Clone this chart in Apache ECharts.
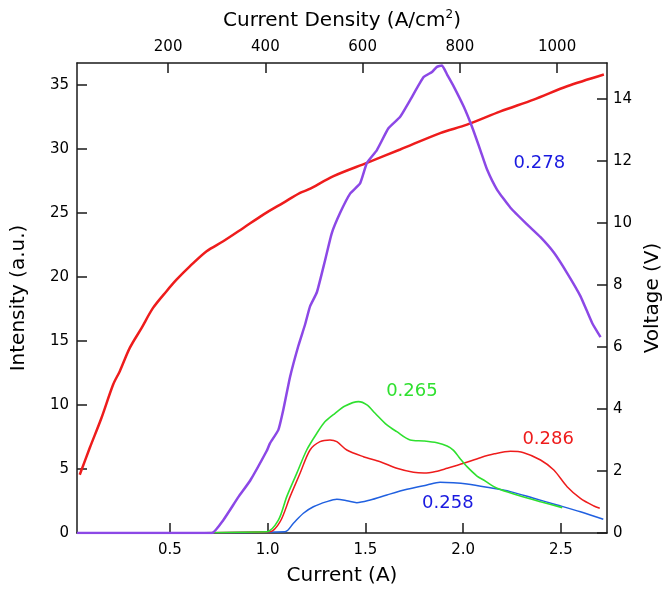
<!DOCTYPE html>
<html><head><meta charset="utf-8">
<script src="https://cdn.jsdelivr.net/npm/echarts@6/dist/echarts.min.js"></script>
<style>html,body{margin:0;padding:0;background:#fff}#c{width:664px;height:593px}</style>
</head><body><div id="c"></div>
<script>
// ---- data (Current in A, Intensity in a.u., Voltage in V) ----
const xTicks = [0.5, 1.0, 1.5, 2.0, 2.5];
const topTicks = [200, 400, 600, 800, 1000];
const intensityTicks = [0, 5, 10, 15, 20, 25, 30, 35];
const voltageTicks = [0, 2, 4, 6, 8, 10, 12, 14];

const s0278 = [[0.025,0],[0.715,0],[0.773,1.0],[0.850,2.8],[0.911,4.1],[0.995,6.4],[1.012,7.0],[1.055,8.05],[1.08,9.6],[1.115,12.2],[1.157,14.6],[1.192,16.3],[1.217,17.7],[1.252,18.8],[1.294,21.3],[1.328,23.4],[1.371,25.0],[1.422,26.5],[1.473,27.3],[1.508,28.9],[1.559,29.9],[1.618,31.6],[1.678,32.5],[1.729,33.8],[1.798,35.6],[1.841,36.0],[1.866,36.4],[1.892,36.5],[1.918,35.8],[1.951,34.9],[2.003,33.3],[2.046,31.7],[2.088,29.9],[2.122,28.4],[2.174,26.8],[2.242,25.4],[2.327,24.1],[2.396,23.1],[2.464,21.9],[2.532,20.3],[2.600,18.5],[2.660,16.4],[2.703,15.3]];
const s0265 = [[0.025,0],[0.995,0.1],[1.055,1.0],[1.098,2.84],[1.149,4.66],[1.200,6.48],[1.252,7.79],[1.294,8.70],[1.345,9.35],[1.396,9.92],[1.465,10.26],[1.508,10.0],[1.550,9.35],[1.610,8.44],[1.661,7.91],[1.729,7.27],[1.798,7.19],[1.866,7.05],[1.918,6.8],[1.951,6.45],[1.985,5.8],[2.020,5.18],[2.071,4.45],[2.105,4.14],[2.174,3.49],[2.276,2.97],[2.396,2.44],[2.507,1.98]];
const s0286 = [[0.025,0],[1.012,0.1],[1.064,0.88],[1.115,2.84],[1.166,4.66],[1.217,6.48],[1.268,7.13],[1.319,7.27],[1.354,7.13],[1.405,6.48],[1.490,5.96],[1.576,5.57],[1.661,5.05],[1.746,4.74],[1.800,4.68],[1.860,4.80],[1.918,5.05],[2.003,5.44],[2.088,5.88],[2.160,6.18],[2.242,6.38],[2.310,6.27],[2.396,5.70],[2.464,4.92],[2.532,3.62],[2.600,2.71],[2.669,2.11],[2.699,1.93]];
const s0258 = [[0.025,0],[1.089,0.1],[1.132,0.76],[1.183,1.54],[1.234,2.05],[1.303,2.45],[1.354,2.63],[1.405,2.52],[1.456,2.37],[1.525,2.58],[1.610,2.97],[1.713,3.41],[1.815,3.75],[1.882,3.96],[1.950,3.92],[2.020,3.82],[2.122,3.57],[2.242,3.23],[2.361,2.71],[2.481,2.19],[2.600,1.66],[2.717,1.07]];
const voltage = [[0.039,1.88],[0.090,2.74],[0.150,3.71],[0.210,4.79],[0.244,5.22],[0.295,5.97],[0.355,6.61],[0.414,7.26],[0.483,7.80],[0.534,8.17],[0.602,8.60],[0.688,9.09],[0.773,9.41],[0.876,9.84],[0.978,10.27],[1.080,10.65],[1.166,10.97],[1.209,11.08],[1.337,11.51],[1.508,11.94],[1.678,12.37],[1.883,12.90],[2.020,13.17],[2.191,13.60],[2.361,13.98],[2.532,14.41],[2.720,14.79]];

const labelTexts = ['0.278', '0.265', '0.286', '0.258'];
const labelPos = [[2.390, 28.9], [1.738, 11.04], [2.435, 7.34], [1.922, 2.32]];

// ---- styles ----
const FONT = 'DejaVu Sans';
const AX = '#1a1a1a';
const C_PURPLE = '#8c48e6', C_GREEN = '#2fe02f', C_RED = '#ee1c1c', C_BLUE = '#2060e0';
const C_LBL_BLUE = '#1a1ae0', C_LBL_GREEN = '#2fe02f', C_LBL_RED = '#ee1c1c';

function axisCommon(ticks, fmt, margin) {
  return {
    axisLine: { show: true, onZero: false, lineStyle: { color: AX, width: 1.5 } },
    axisTick: { show: true, inside: true, length: 10, customValues: ticks, lineStyle: { color: AX, width: 1.5 } },
    axisLabel: { show: true, customValues: ticks, formatter: fmt, color: '#000', fontSize: 15, fontFamily: FONT, margin: margin },
    splitLine: { show: false }
  };
}

function mk(idx, color) {
  return {
    symbol: 'circle', symbolSize: 1, silent: true,
    itemStyle: { color: 'rgba(0,0,0,0)' },
    label: { show: true, position: 'inside', formatter: labelTexts[idx], color: color, fontSize: 18, fontFamily: FONT },
    data: [{ coord: labelPos[idx] }]
  };
}

function line(data, color, width, yIdx, smooth, markIdx, markColor) {
  const s = {
    type: 'line', data: data, xAxisIndex: 0, yAxisIndex: yIdx,
    symbol: 'none', showSymbol: false, smooth: smooth,
    lineStyle: { color: color, width: width }, itemStyle: { color: color },
    animation: false, silent: true
  };
  if (markIdx !== undefined) s.markPoint = mk(markIdx, markColor);
  return s;
}

const chart = echarts.init(document.getElementById('c'), null, { renderer: 'canvas' });
chart.setOption({
  backgroundColor: '#fff',
  animation: false,
  grid: { left: 77, right: 57, top: 63, bottom: 60, containLabel: false, outerBoundsMode: 'none' },
  xAxis: [
    Object.assign({
      type: 'value', position: 'bottom', min: 0.025, max: 2.736,
      name: 'Current (A)', nameLocation: 'middle', nameGap: 33,
      nameTextStyle: { fontSize: 20, color: '#000', fontFamily: FONT }
    }, axisCommon(xTicks, v => v.toFixed(1), 10)),
    Object.assign({
      type: 'value', position: 'top', min: 12.6, max: 1102.6,
      name: 'Current Density (A/cm{sup|2})', nameLocation: 'middle', nameGap: 31,
      nameTextStyle: { fontSize: 20, color: '#000', fontFamily: FONT,
        rich: { sup: { fontSize: 12, fontFamily: FONT, color: '#000', verticalAlign: 'bottom', padding: [0, 0, 11, 0] } } }
    }, axisCommon(topTicks, v => String(v), 8))
  ],
  yAxis: [
    Object.assign({
      type: 'value', position: 'left', min: 0, max: 36.7,
      name: 'Intensity (a.u.)', nameLocation: 'middle', nameGap: 48, nameRotate: 90,
      nameTextStyle: { fontSize: 20, color: '#000', fontFamily: FONT }
    }, axisCommon(intensityTicks, v => String(v), 8)),
    Object.assign({
      type: 'value', position: 'right', min: 0, max: 15.16,
      name: 'Voltage (V)', nameLocation: 'middle', nameGap: 32, nameRotate: 90,
      nameTextStyle: { fontSize: 20, color: '#000', fontFamily: FONT }
    }, axisCommon(voltageTicks, v => String(v), 6))
  ],
  series: [
    line(s0258, C_BLUE, 1.5, 0, 0.3, 3, C_LBL_BLUE),
    line(s0286, C_RED, 1.5, 0, 0.3, 2, C_LBL_RED),
    line(s0265, C_GREEN, 1.6, 0, 0.3, 1, C_LBL_GREEN),
    line(voltage, C_RED, 2.5, 1, 0.3),
    line(s0278, C_PURPLE, 2.5, 0, 0.15, 0, C_LBL_BLUE)
  ]
});
</script></body></html>
